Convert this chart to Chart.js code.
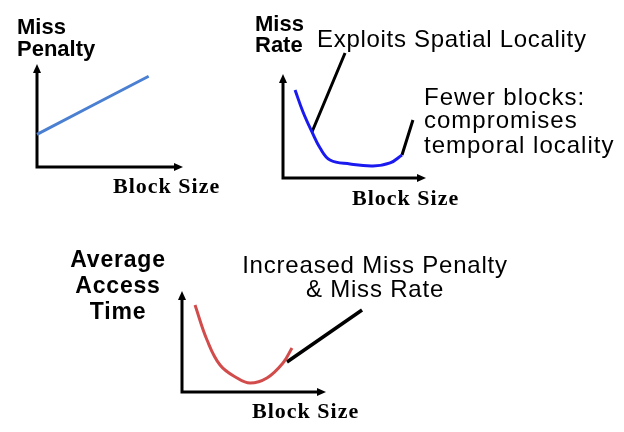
<!DOCTYPE html>
<html lang="en">
  <head>
    <meta charset="UTF-8" />
    <title>Block Size Trade-off</title>
    <style>
      body {
        margin: 0;
        padding: 0;
        background-color: white;
        width: 624px;
        height: 432px;
        overflow: hidden;
        position: relative;
      }
      canvas {
        position: absolute;
      }
      .label {
        position: absolute;
        white-space: pre;
        line-height: 1;
        color: black;
      }
    </style>
  </head>
  <body>
    <canvas id="penaltyChart"></canvas>
    <canvas id="missChart"></canvas>
    <canvas id="amatChart"></canvas>
    <script src="https://cdn.jsdelivr.net/npm/chart.js@4.4.1/dist/chart.umd.min.js"></script>
    <script>
      // values, each axis runs 0..10
      const penaltyBlock = [0, 7.7];
      const penaltyValue = [3.2, 8.9];

      const missBlock = [0.85, 1.41, 2.04, 2.61, 3.31, 4.72, 6.34, 7.54, 8.38];
      const missValue = [8.54, 6.41, 4.47, 2.91, 1.75, 1.36, 1.17, 1.46, 2.23];
      const spatialX = [2.04, 4.37];
      const spatialY = [4.47, 12.14];
      const temporalX = [8.38, 9.15];
      const temporalY = [2.23, 5.63];

      const amatBlock = [0.91, 1.75, 2.66, 3.85, 4.76, 5.94, 7.06, 7.69];
      const amatValue = [8.7, 5.2, 2.7, 1.4, 0.9, 1.4, 2.9, 4.4];
      const amatPointerX = [7.34, 12.59];
      const amatPointerY = [3.0, 8.2];

      const PAD = 40;

      function pts(xs, ys) {
        return xs.map((x, i) => ({ x: x, y: ys[i] }));
      }

      // draws the two black axes with arrow heads
      const arrowAxes = {
        id: "arrowAxes",
        beforeDatasetsDraw(chart) {
          const { ctx, chartArea } = chart;
          const l = chartArea.left, b = chartArea.bottom;
          const r = chartArea.right, t = chartArea.top;
          ctx.save();
          ctx.strokeStyle = "#000";
          ctx.fillStyle = "#000";
          ctx.lineWidth = 3;
          ctx.beginPath();
          ctx.moveTo(l, t + 6);
          ctx.lineTo(l, b);
          ctx.lineTo(r - 6, b);
          ctx.stroke();
          ctx.beginPath();
          ctx.moveTo(l, t - 1);
          ctx.lineTo(l - 4, t + 8);
          ctx.lineTo(l + 4, t + 8);
          ctx.closePath();
          ctx.fill();
          ctx.beginPath();
          ctx.moveTo(r + 1, b);
          ctx.lineTo(r - 8, b - 4);
          ctx.lineTo(r - 8, b + 4);
          ctx.closePath();
          ctx.fill();
          ctx.restore();
        },
      };

      function curve(xs, ys, color, width) {
        return {
          data: pts(xs, ys),
          borderColor: color,
          borderWidth: width,
          pointRadius: 0,
          fill: false,
          clip: false,
          tension: 0.4,
        };
      }

      function makeChart(id, left, top, w, h, datasets) {
        const canvas = document.getElementById(id);
        canvas.width = w + 2 * PAD;
        canvas.height = h + 2 * PAD;
        canvas.style.left = left - PAD + "px";
        canvas.style.top = top - PAD + "px";
        return new Chart(canvas.getContext("2d"), {
          type: "line",
          data: { datasets: datasets },
          options: {
            responsive: false,
            animation: false,
            devicePixelRatio: 1,
            layout: { padding: PAD },
            scales: {
              x: { type: "linear", min: 0, max: 10, display: false },
              y: { type: "linear", min: 0, max: 10, display: false },
            },
            plugins: { legend: { display: false }, tooltip: { enabled: false } },
          },
          plugins: [arrowAxes],
        });
      }

      makeChart("penaltyChart", 37, 65, 145, 102, [
        curve(penaltyBlock, penaltyValue, "#4a7fd2", 3),
      ]);

      makeChart("missChart", 283, 75, 142, 103, [
        curve(missBlock, missValue, "#1a1af0", 3),
        curve(spatialX, spatialY, "#000", 3),
        curve(temporalX, temporalY, "#000", 3),
      ]);

      makeChart("amatChart", 182, 292, 143, 100, [
        curve(amatBlock, amatValue, "#d24c4c", 3),
        curve(amatPointerX, amatPointerY, "#000", 3.5),
      ]);

      // text labels, placed by baseline
      const SANS = "'Liberation Sans', Arial, sans-serif";
      const SERIF = "'Liberation Serif', 'Times New Roman', serif";
      const labels = [
        { t: "Miss", x: 17, y: 35, f: SANS, s: 22, b: true },
        { t: "Penalty", x: 17, y: 57, f: SANS, s: 22, b: true },
        { t: "Block Size", x: 113, y: 193, f: SERIF, s: 22, b: true, ls: 1 },

        { t: "Miss", x: 255, y: 32, f: SANS, s: 22, b: true },
        { t: "Rate", x: 255, y: 53, f: SANS, s: 22, b: true },
        { t: "Exploits Spatial Locality", x: 317, y: 47, f: SANS, s: 24, ls: 0.7 },
        { t: "Fewer blocks:", x: 424, y: 105, f: SANS, s: 24, ls: 1 },
        { t: "compromises", x: 424, y: 128, f: SANS, s: 24, ls: 1 },
        { t: "temporal locality", x: 424, y: 153, f: SANS, s: 24, ls: 1 },
        { t: "Block Size", x: 352, y: 205, f: SERIF, s: 22, b: true, ls: 1 },

        { t: "Average", x: 118, y: 267, f: SANS, s: 23, b: true, ls: 0.8, c: true },
        { t: "Access", x: 118, y: 293, f: SANS, s: 23, b: true, ls: 0.8, c: true },
        { t: "Time", x: 118, y: 319, f: SANS, s: 23, b: true, ls: 0.8, c: true },
        { t: "Increased Miss Penalty", x: 375, y: 273, f: SANS, s: 24, ls: 0.8, c: true },
        { t: "& Miss Rate", x: 375, y: 297, f: SANS, s: 24, ls: 0.8, c: true },
        { t: "Block Size", x: 252, y: 418, f: SERIF, s: 22, b: true, ls: 1 },
      ];

      labels.forEach((d) => {
        const el = document.createElement("div");
        el.className = "label";
        el.textContent = d.t;
        el.style.fontFamily = d.f;
        el.style.fontSize = d.s + "px";
        el.style.fontWeight = d.b ? "bold" : "normal";
        el.style.letterSpacing = (d.ls || 0) + "px";
        const asc = d.f === SERIF ? 0.8375 : 0.8465;
        el.style.top = d.y - asc * d.s + "px";
        el.style.left = d.x + "px";
        if (d.c) el.style.transform = "translateX(-50%)";
        document.body.appendChild(el);
      });
    </script>
  </body>
</html>
